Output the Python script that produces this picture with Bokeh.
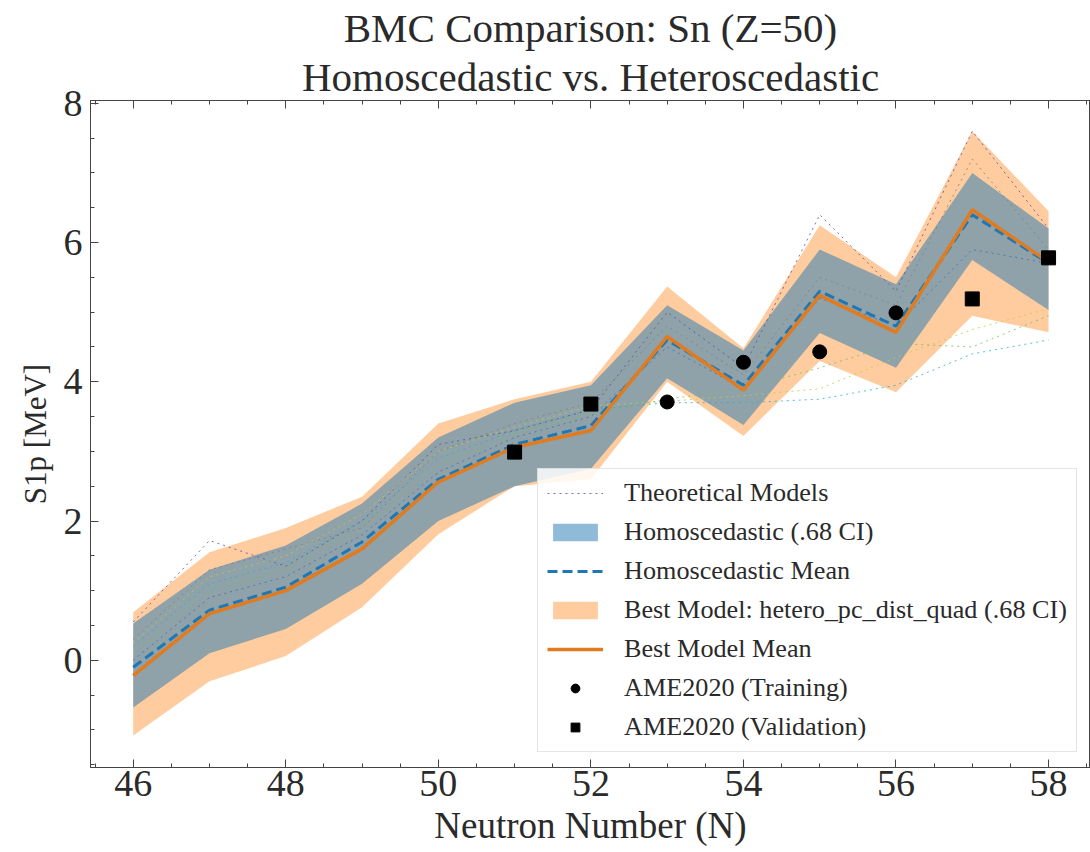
from bokeh.plotting import figure
from bokeh.models import (Range1d, SingleIntervalTicker, LinearAxis, Title, Legend, LegendItem,
                          CustomJSTickFormatter)
from bokeh.embed import file_html
from bokeh.resources import INLINE

# ---------------- data ----------------
N = [46, 47, 48, 49, 50, 51, 52, 53, 54, 55, 56, 57, 58]

theory_1 = [0.55, 1.72, 1.35, 2.00, 3.10, 3.30, 3.60, 5.00, 4.20, 6.40, 5.30, 7.60, 6.20]
theory_2 = [0.30, 1.30, 1.60, 1.90, 3.00, 3.40, 3.70, 4.80, 4.10, 5.50, 5.10, 7.20, 5.90]
theory_3 = [0.00, 0.90, 1.20, 1.80, 2.70, 3.20, 3.50, 4.50, 3.90, 5.20, 4.80, 5.90, 5.70]
theory_4 = [0.20, 1.10, 1.40, 2.00, 2.90, 3.30, 3.60, 3.70, 3.70, 3.75, 3.95, 4.40, 4.60]
theory_5 = [0.25, 1.20, 1.50, 2.10, 3.00, 3.35, 3.65, 3.72, 3.80, 3.90, 4.35, 4.75, 5.05]
theory_6 = [0.10, 1.00, 1.30, 1.90, 2.80, 3.25, 3.55, 3.75, 3.90, 4.20, 4.55, 4.50, 4.95]
theory_colors = ["#5b4a9e", "#7f7f7f", "#3b6fb0", "#2ab0c0", "#c8c840", "#6fc060"]

homo_mean = [-0.10, 0.72, 1.05, 1.70, 2.60, 3.10, 3.37, 4.60, 3.95, 5.30, 4.80, 6.40, 5.70]
homo_lo   = [-0.68, 0.10, 0.45, 1.10, 2.00, 2.50, 2.75, 4.05, 3.38, 4.70, 4.20, 5.75, 5.03]
homo_hi   = [0.53, 1.30, 1.65, 2.25, 3.20, 3.70, 3.95, 5.10, 4.45, 5.90, 5.40, 7.00, 6.20]

best_mean = [-0.22, 0.67, 1.00, 1.60, 2.56, 3.06, 3.30, 4.65, 3.88, 5.24, 4.71, 6.47, 5.72]
best_lo   = [-1.08, -0.30, 0.06, 0.76, 1.81, 2.50, 2.60, 4.00, 3.22, 4.30, 3.85, 4.95, 4.71]
best_hi   = [0.69, 1.55, 1.90, 2.35, 3.40, 3.75, 4.00, 5.37, 4.48, 6.25, 5.50, 7.60, 6.45]

train_N = [53, 54, 55, 56]
train_S = [3.71, 4.28, 4.43, 4.99]
val_N = [51, 52, 57, 58]
val_S = [2.99, 3.68, 5.19, 5.78]

FONT = "Liberation Serif"
TXT = "#2a2a2a"

p = figure(width=1090, height=852, output_backend="svg", toolbar_location=None,
           x_range=Range1d(45.44, 58.55), y_range=Range1d(-1.54, 8.04),
           min_border_left=90, min_border_right=0, min_border_top=100, min_border_bottom=85)
p.background_fill_color = "white"
p.border_fill_color = "white"
p.outline_line_color = "#444444"
p.xgrid.grid_line_color = None
p.ygrid.grid_line_color = None

r_best_band = p.varea(x=N, y1=best_lo, y2=best_hi, fill_color="#ff7f0e", fill_alpha=0.4)
r_homo_band = p.varea(x=N, y1=homo_lo, y2=homo_hi, fill_color="#1f77b4", fill_alpha=0.5)

theory_rs = []
for ys, c in zip([theory_1, theory_2, theory_3, theory_4, theory_5, theory_6], theory_colors):
    theory_rs.append(p.line(N, ys, line_color=c, line_width=1, line_dash="dotted", line_alpha=0.8))

r_homo_mean = p.line(N, homo_mean, line_color="#1f77b4", line_width=3, line_dash="10 5")
r_best_mean = p.line(N, best_mean, line_color="#e07b20", line_width=3.5)
r_train = p.scatter(train_N, train_S, marker="circle", size=14, fill_color="black", line_color="black")
r_val = p.scatter(val_N, val_S, marker="square", size=14, fill_color="black", line_color="black")

p.xaxis.ticker = SingleIntervalTicker(interval=2, num_minor_ticks=4)
p.yaxis.ticker = SingleIntervalTicker(interval=2, num_minor_ticks=4)
for ax in (p.xaxis[0], p.yaxis[0]):
    ax.major_tick_in = 8
    ax.major_tick_out = 0
    ax.minor_tick_in = 4
    ax.minor_tick_out = 0
    ax.axis_line_color = "#444444"
    ax.major_tick_line_color = "#444444"
    ax.minor_tick_line_color = "#444444"
    ax.major_label_text_font = FONT
    ax.major_label_text_font_size = "38px"
    ax.major_label_text_color = TXT
    ax.axis_label_text_font = FONT
    ax.axis_label_text_font_style = "normal"
    ax.axis_label_text_color = TXT
p.xaxis.axis_label = "Neutron Number (N)"
p.yaxis.axis_label = "S1p [MeV]"
p.xaxis.axis_label_text_font_size = "37px"
p.yaxis.axis_label_text_font_size = "31px"
p.xaxis.major_label_standoff = 3
p.xaxis.axis_label_standoff = 6
p.yaxis.major_label_standoff = 8
p.yaxis.axis_label_standoff = 8

top_ax = LinearAxis(ticker=SingleIntervalTicker(interval=2, num_minor_ticks=4),
                    formatter=CustomJSTickFormatter(code="return ''"),
                    major_tick_in=8, major_tick_out=0, minor_tick_in=4, minor_tick_out=0,
                    major_label_standoff=0, axis_line_color="#444444",
                    major_tick_line_color="#444444", minor_tick_line_color="#444444")
p.add_layout(top_ax, "above")

p.add_layout(Title(text="Homoscedastic vs. Heteroscedastic", align="center",
                   text_font=FONT, text_font_size="41px", text_font_style="normal",
                   text_color=TXT, standoff=2), "above")
p.add_layout(Title(text="BMC Comparison: Sn (Z=50)", align="center",
                   text_font=FONT, text_font_size="41px", text_font_style="normal",
                   text_color=TXT, standoff=0), "above")
p.title.visible = False

legend = Legend(items=[
    LegendItem(label="Theoretical Models", renderers=[theory_rs[0]]),
    LegendItem(label="Homoscedastic (.68 CI)", renderers=[r_homo_band]),
    LegendItem(label="Homoscedastic Mean", renderers=[r_homo_mean]),
    LegendItem(label="Best Model: hetero_pc_dist_quad (.68 CI)", renderers=[r_best_band]),
    LegendItem(label="Best Model Mean", renderers=[r_best_mean]),
    LegendItem(label="AME2020 (Training)", renderers=[r_train]),
    LegendItem(label="AME2020 (Validation)", renderers=[r_val]),
], location=(447, 15))
legend.label_text_font = FONT
legend.label_text_font_size = "26.2px"
legend.label_text_color = TXT
legend.glyph_width = 56
legend.glyph_height = 22
legend.spacing = 9
legend.padding = 9
legend.margin = 0
legend.label_standoff = 21
legend.border_line_color = "#cccccc"
legend.border_line_width = 1.5
legend.background_fill_alpha = 0.85
p.add_layout(legend)

open("out.html", "w").write(file_html(p, INLINE))
